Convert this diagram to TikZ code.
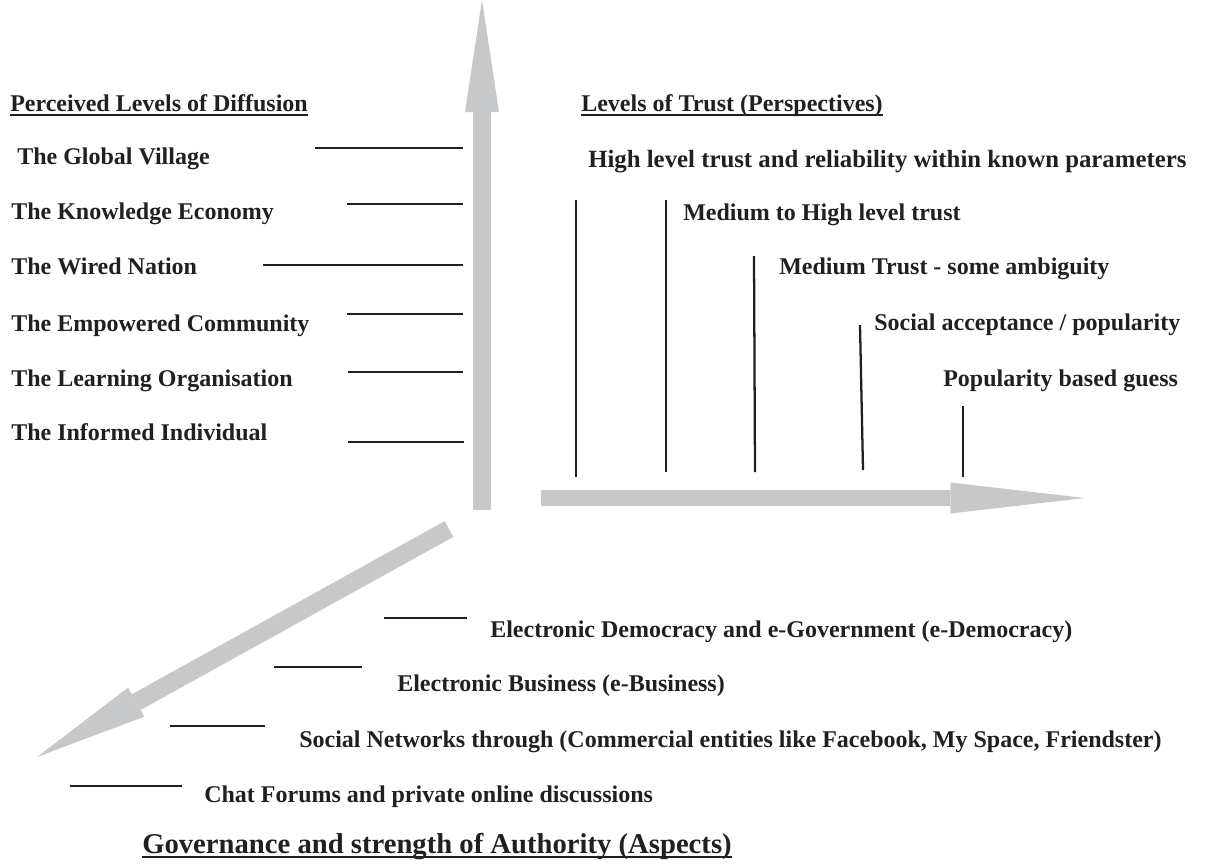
\documentclass[tikz,border=0pt]{standalone}
\usepackage{fontspec}
\setmainfont{Liberation Serif}
\usetikzlibrary{arrows.meta}

\definecolor{axisgrey}{RGB}{199,200,202}
\definecolor{inkblack}{RGB}{35,31,32}

\begin{document}
\begin{tikzpicture}[x=0.75pt, y=-0.75pt,
    every node/.style={anchor=base west, inner sep=0pt, text=inkblack,
      font=\fontsize{18}{21}\selectfont\bfseries},
    tick/.style={draw=inkblack, line width=1.7pt},
    uline/.style={draw=inkblack, line width=1.3pt},
    axis/.style={draw=axisgrey, line width=#1}]
        \useasboundingbox (0,0) rectangle (1213,865);

        % the three axes
        \coordinate (vbase) at (482,510);
        \coordinate (vtip) at (482,0);
        \coordinate (hbase) at (541,498);
        \coordinate (htip) at (1085,498);
        \coordinate (dbase) at (449,529);
        \coordinate (dtip) at (37,757);
        \draw[axis=13.5pt, -{Triangle[length=84pt, width=25.5pt, line width=0pt]}] (vbase) -- (vtip);
        \draw[axis=12pt, -{Triangle[length=101pt, width=23.25pt, line width=0pt]}] (hbase) -- (htip);
        \draw[axis=13.5pt, -{Triangle[length=85pt, width=25pt, line width=0pt]}] (dbase) -- (dtip);

        % perceived levels of diffusion
        \node (diff) at (10,111) {Perceived Levels of Diffusion};
        \node (village) at (17,164) {The Global Village};
        \node (knowledge) at (11,219) {The Knowledge Economy};
        \node (wired) at (11,274) {The Wired Nation};
        \node (empowered) at (11,331) {The Empowered Community};
        \node (learning) at (11,386) {The Learning Organisation};
        \node (informed) at (11,440) {The Informed Individual};
        \draw[uline] ([yshift=-3pt]diff.base west) -- ([yshift=-3pt]diff.base east);

        \coordinate (village1) at (315,148);   \coordinate (village2) at (463,148);
        \coordinate (knowledge1) at (347,204); \coordinate (knowledge2) at (463,204);
        \coordinate (wired1) at (263,265);     \coordinate (wired2) at (463,265);
        \coordinate (empowered1) at (347,314); \coordinate (empowered2) at (463,314);
        \coordinate (learning1) at (348,372);  \coordinate (learning2) at (463,372);
        \coordinate (informed1) at (348,442);  \coordinate (informed2) at (464,442);
        \draw[tick] (village1) -- (village2);
        \draw[tick] (knowledge1) -- (knowledge2);
        \draw[tick] (wired1) -- (wired2);
        \draw[tick] (empowered1) -- (empowered2);
        \draw[tick] (learning1) -- (learning2);
        \draw[tick] (informed1) -- (informed2);

        % levels of trust
        \node (trust) at (581,111) {Levels of Trust (Perspectives)};
        \node[font=\fontsize{18.6}{21}\selectfont\bfseries] (high) at (588,167) {High level trust and reliability within known parameters};
        \node (medhigh) at (683,220) {Medium to High level trust};
        \node (medium) at (779,274) {Medium Trust - some ambiguity};
        \node (social) at (874,330) {Social acceptance / popularity};
        \node (guess) at (943,386) {Popularity based guess};
        \draw[uline] ([yshift=-3pt]trust.base west) -- ([yshift=-3pt]trust.base east);

        \coordinate (high1) at (576,200);    \coordinate (high2) at (576,477);
        \coordinate (medhigh1) at (666,200); \coordinate (medhigh2) at (666,472);
        \coordinate (medium1) at (754,256);  \coordinate (medium2) at (755,472);
        \coordinate (social1) at (860,325);  \coordinate (social2) at (863,470);
        \coordinate (guess1) at (963,406);   \coordinate (guess2) at (963,477);
        \draw[tick] (high1) -- (high2);
        \draw[tick] (medhigh1) -- (medhigh2);
        \draw[tick] (medium1) -- (medium2);
        \draw[tick] (social1) -- (social2);
        \draw[tick] (guess1) -- (guess2);

        % governance and strength of authority
        \node (edem) at (490,637) {Electronic Democracy and e-Government (e-Democracy)};
        \node (ebus) at (397,691) {Electronic Business (e-Business)};
        \node (socnet) at (299,747) {Social Networks through (Commercial entities like Facebook, My Space, Friendster)};
        \node (chat) at (204,802) {Chat Forums and private online discussions};
        \node[font=\fontsize{21.5}{24}\selectfont\bfseries] (gov) at (142,853) {Governance and strength of Authority (Aspects)};
        \draw[uline] ([yshift=-3pt]gov.base west) -- ([yshift=-3pt]gov.base east);

        \coordinate (edem1) at (384,618);   \coordinate (edem2) at (467,618);
        \coordinate (ebus1) at (274,667);   \coordinate (ebus2) at (362,667);
        \coordinate (socnet1) at (170,726); \coordinate (socnet2) at (265,726);
        \coordinate (chat1) at (70,786);    \coordinate (chat2) at (182,786);
        \draw[tick] (edem1) -- (edem2);
        \draw[tick] (ebus1) -- (ebus2);
        \draw[tick] (socnet1) -- (socnet2);
        \draw[tick] (chat1) -- (chat2);
      \end{tikzpicture}
\end{document}
